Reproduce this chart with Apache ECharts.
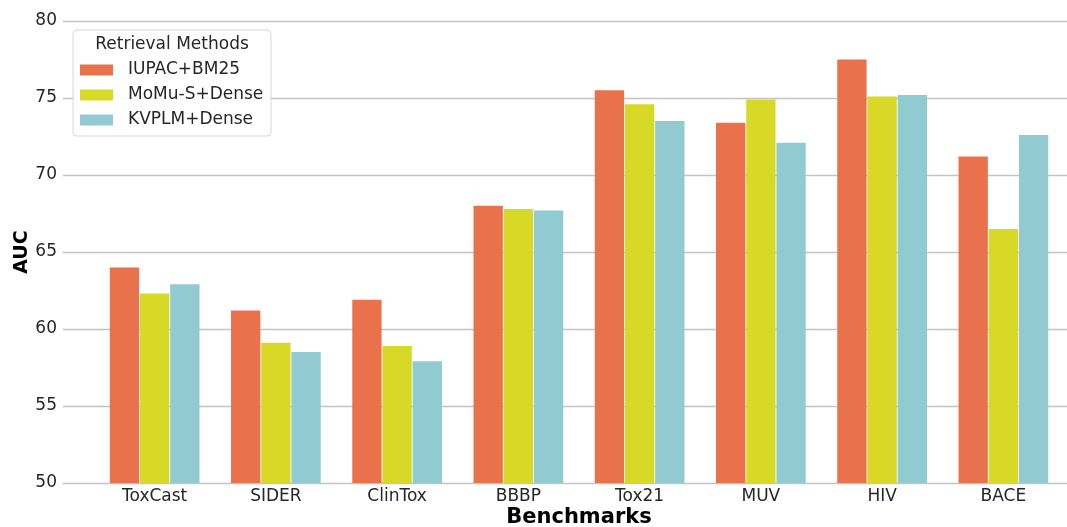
<!DOCTYPE html>
<html lang="en">
<head>
    <meta charset="UTF-8">
    <title>AUC by benchmark</title>
    <script src="https://cdn.jsdelivr.net/npm/echarts@6/dist/echarts.min.js"></script>
</head>
<body style="margin:0">
<div id="showbox" style="width:1067px; height:527px;"></div>
</body>
<script type="text/javascript">
    var benchmarks = ['ToxCast', 'SIDER', 'ClinTox', 'BBBP', 'Tox21', 'MUV', 'HIV', 'BACE'];
    var iupacBm25 = [64.0, 61.2, 61.9, 68.0, 75.5, 73.4, 77.5, 71.2];
    var momuDense = [62.3, 59.1, 58.9, 67.8, 74.6, 74.9, 75.1, 66.5];
    var kvplmDense = [62.9, 58.5, 57.9, 67.7, 73.5, 72.1, 75.2, 72.6];
    var methodNames = ['IUPAC+BM25', 'MoMu-S+Dense', 'KVPLM+Dense'];
    var colors = ['#E9724C', '#D8D826', '#92CAD1'];

    var font = 'DejaVu Sans';
    var chart = echarts.init(document.getElementById('showbox'));

    function barSeries(name, data, color) {
        return {
            name: name,
            type: 'bar',
            xAxisIndex: 1,
            yAxisIndex: 1,
            data: data,
            barGap: '3%',
            barCategoryGap: '26%',
            itemStyle: {color: color},
            z: 3
        };
    }

    chart.setOption({
        animation: false,
        textStyle: {fontFamily: font},
        grid: [
            // background grid: gridlines + y labels across full axes width
            {left: 63, right: 0, top: 21, bottom: 44, outerBoundsMode: 'none'},
            // bar grid
            {left: 94, right: 3, top: 21, bottom: 44, outerBoundsMode: 'none'}
        ],
        xAxis: [
            {gridIndex: 0, type: 'category', data: [''], show: false},
            {
                gridIndex: 1,
                type: 'category',
                data: benchmarks,
                axisLine: {show: false},
                axisTick: {show: false},
                axisLabel: {fontSize: 17, color: '#262626', margin: 5, fontFamily: font},
                name: 'Benchmarks',
                nameLocation: 'middle',
                nameGap: 24,
                nameMoveOverlap: false,
                nameTextStyle: {fontSize: 21, fontWeight: 'bold', color: '#000', fontFamily: font}
            }
        ],
        yAxis: [
            {
                gridIndex: 0,
                type: 'value',
                min: 50,
                max: 80,
                interval: 5,
                axisLine: {show: false},
                axisTick: {show: false},
                axisLabel: {fontSize: 17, color: '#262626', margin: 6, fontFamily: font},
                splitLine: {lineStyle: {color: '#c4c4c4', width: 1.3}},
                name: 'AUC',
                nameLocation: 'middle',
                nameGap: 31,
                nameRotate: 90,
                nameMoveOverlap: false,
                nameTextStyle: {fontSize: 19, fontWeight: 'bold', color: '#000', fontFamily: font}
            },
            {
                gridIndex: 1,
                type: 'value',
                min: 50,
                max: 80,
                interval: 5,
                show: false
            }
        ],
        legend: {
            orient: 'vertical',
            left: 80,
            top: 60,
            padding: 0,
            data: methodNames,
            itemWidth: 33,
            itemHeight: 11,
            itemGap: 5,
            icon: 'rect',
            textStyle: {fontSize: 17, color: '#262626', fontFamily: font, lineHeight: 20, padding: [0, 0, 0, 10]},
            z: 10
        },
        graphic: [
            {
                type: 'rect',
                shape: {x: 73, y: 30, width: 198, height: 106, r: 4},
                style: {fill: 'rgba(255,255,255,0.9)', stroke: '#d6d6d6', lineWidth: 1},
                z: 5
            },
            {
                type: 'text',
                x: 172,
                y: 45,
                style: {
                    text: 'Retrieval Methods',
                    fontSize: 17,
                    fontFamily: font,
                    fill: '#262626',
                    align: 'center',
                    verticalAlign: 'middle'
                },
                z: 6
            }
        ],
        series: [
            barSeries(methodNames[0], iupacBm25, colors[0]),
            barSeries(methodNames[1], momuDense, colors[1]),
            barSeries(methodNames[2], kvplmDense, colors[2])
        ]
    });
</script>
</html>
